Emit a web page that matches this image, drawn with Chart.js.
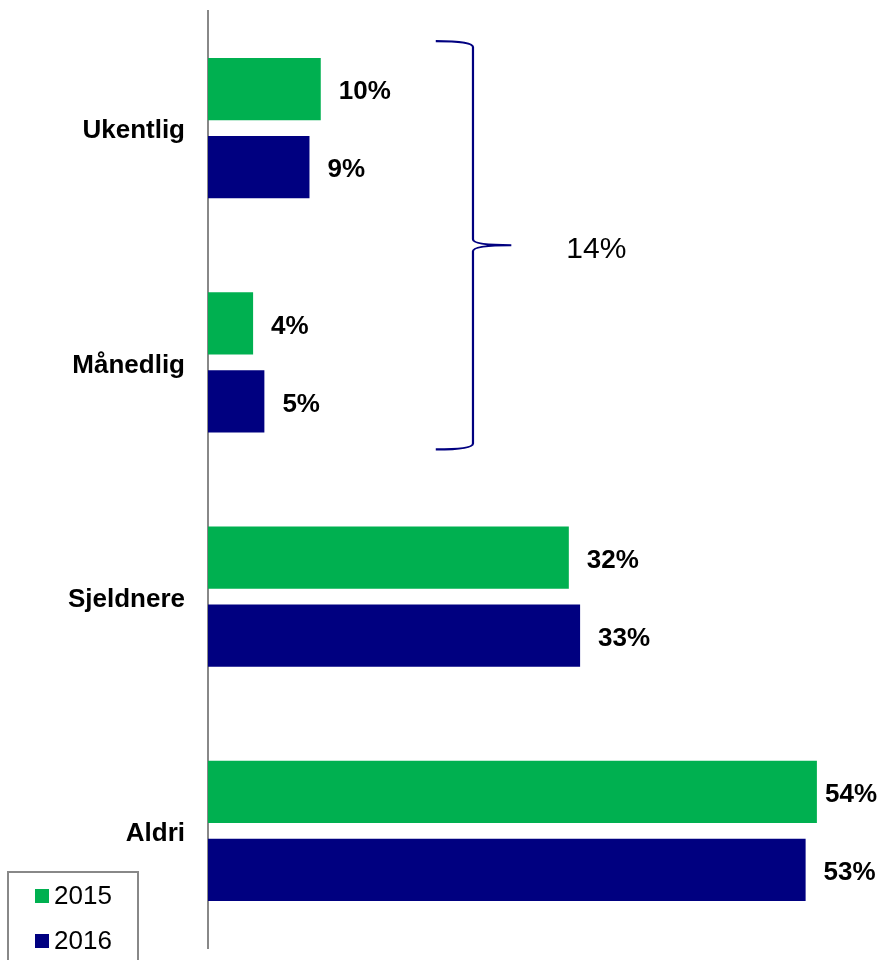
<!DOCTYPE html>
<html>
<head>
<meta charset="utf-8">
<script src="https://cdn.jsdelivr.net/npm/chart.js"></script>
<style>
  html, body { margin: 0; padding: 0; background: #fff; }
  #wrap { width: 879px; height: 960px; }
</style>
</head>
<body>
<div id="wrap"><canvas id="chart" width="879" height="960"></canvas></div>
<script>
// Data
const categories = ['Ukentlig', 'Månedlig', 'Sjeldnere', 'Aldri'];
const seriesLabels = ['2015', '2016'];
const values2015 = [10, 4, 32, 54];
const values2016 = [9, 5, 33, 53];
const seriesColors = ['#00B050', '#000080'];
// Klamme over de to første kategoriene
const bracketCategories = [0, 1];
const bracketLabel = '14%';

const FONT = '"Liberation Sans", Arial, sans-serif';

// Verdietiketter til høyre for søylene
const valueLabels = {
    id: 'valueLabels',
    afterDatasetsDraw(chart) {
        const ctx = chart.ctx;
        ctx.save();
        ctx.font = 'bold 26px ' + FONT;
        ctx.fillStyle = '#000';
        ctx.textBaseline = 'middle';
        ctx.textAlign = 'left';
        chart.data.datasets.forEach((ds, i) => {
            chart.getDatasetMeta(i).data.forEach((bar, j) => {
                const txt = ds.data[j] + '%';
                let x = bar.x + 18;
                const w = ctx.measureText(txt).width;
                if (x + w > chart.width - 2) x = chart.width - 2 - w;
                ctx.fillText(txt, x, bar.y + 3);
            });
        });
        ctx.restore();
    }
};

// Klamme med samlet andel
const bracket = {
    id: 'bracket',
    afterDatasetsDraw(chart) {
        const ctx = chart.ctx;
        const first = chart.getDatasetMeta(0).data[bracketCategories[0]];
        const last = chart.getDatasetMeta(1).data[bracketCategories[1]];
        const top = first.y - first.height / 2 - 17;
        const bottom = last.y + last.height / 2 + 17;
        const mid = (top + bottom) / 2;
        const xs = chart.scales.x;
        const xl = xs.getPixelForValue(20.2);
        const xv = xs.getPixelForValue(23.5);
        const xt = xs.getPixelForValue(26.9);
        ctx.save();
        ctx.strokeStyle = '#000080';
        ctx.lineWidth = 2.2;
        ctx.beginPath();
        ctx.moveTo(xl, top);
        ctx.quadraticCurveTo(xv, top, xv, top + 6);
        ctx.lineTo(xv, mid - 6);
        ctx.quadraticCurveTo(xv, mid, xt, mid);
        ctx.quadraticCurveTo(xv, mid, xv, mid + 6);
        ctx.lineTo(xv, bottom - 6);
        ctx.quadraticCurveTo(xv, bottom, xl, bottom);
        ctx.stroke();
        ctx.font = '30px ' + FONT;
        ctx.fillStyle = '#000';
        ctx.textBaseline = 'middle';
        ctx.textAlign = 'left';
        ctx.fillText(bracketLabel, xt + 55, mid + 4);
        ctx.restore();
    }
};

// Forklaring nederst til venstre
const boxLegend = {
    id: 'boxLegend',
    afterDraw(chart) {
        const ctx = chart.ctx;
        ctx.save();
        ctx.strokeStyle = '#888';
        ctx.lineWidth = 2;
        ctx.strokeRect(8, 872, 130, 100);
        ctx.font = '26px ' + FONT;
        ctx.textBaseline = 'middle';
        ctx.textAlign = 'left';
        chart.data.datasets.forEach((ds, i) => {
            const cy = 896 + i * 45;
            ctx.fillStyle = ds.backgroundColor;
            ctx.fillRect(35, cy - 7, 14, 14);
            ctx.fillStyle = '#000';
            ctx.fillText(ds.label, 54, cy + 1);
        });
        ctx.restore();
    }
};

const ctx = document.getElementById('chart').getContext('2d');
new Chart(ctx, {
    type: 'bar',
    data: {
        labels: categories,
        datasets: [
            { label: seriesLabels[0], data: values2015, backgroundColor: seriesColors[0] },
            { label: seriesLabels[1], data: values2016, backgroundColor: seriesColors[1] }
        ]
    },
    options: {
        indexAxis: 'y',
        responsive: false,
        animation: false,
        categoryPercentage: 0.666,
        barPercentage: 0.795,
        layout: { padding: { top: 11, bottom: 12, left: 0, right: 17 } },
        plugins: {
            legend: { display: false },
            tooltip: { enabled: false }
        },
        scales: {
            x: { display: false, min: 0, max: 58 },
            y: {
                afterFit: (scale) => {
                    scale.width = 208;
                    scale.paddingTop = 0;
                    scale.paddingBottom = 0;
                },
                grid: { display: false, drawTicks: false },
                border: { display: true, color: '#888888', width: 2 },
                ticks: {
                    padding: 23,
                    labelOffset: 3,
                    color: '#000',
                    font: { family: FONT, size: 26, weight: 'bold' }
                }
            }
        }
    },
    plugins: [valueLabels, bracket, boxLegend]
});
</script>
</body>
</html>
